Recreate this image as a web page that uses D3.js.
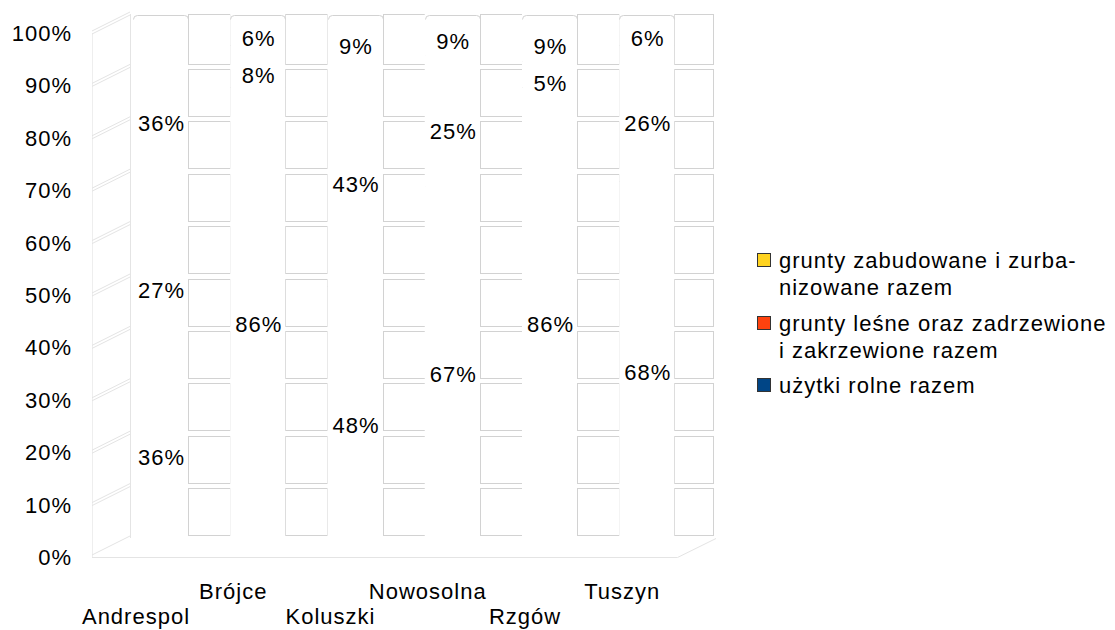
<!DOCTYPE html>
<html>
<head>
<meta charset="utf-8">
<script src="https://cdn.jsdelivr.net/npm/d3@7"></script>
<style>
  body { margin: 0; background: #fff; }
  text { font-family: "Liberation Sans", Arial, sans-serif; font-size: 22px; letter-spacing: 1px; fill: #000; }
</style>
</head>
<body>
<script>
// stacked 100% columns, 3D look, bars are left white like in the source
var categories = ["Andrespol", "Brójce", "Koluszki", "Nowosolna", "Rzgów", "Tuszyn"];
var uzytkiRolne = [36, 86, 48, 67, 86, 68];
var gruntyLesne = [27, 8, 43, 25, 5, 26];
var gruntyZabudowane = [36, 6, 9, 9, 9, 6];
var seriesKeys = ["uzytkiRolne", "gruntyLesne", "gruntyZabudowane"];
var legendNames = [
    ["grunty zabudowane i zurba-", "nizowane razem"],
    ["grunty leśne oraz zadrzewione", "i zakrzewione razem"],
    ["użytki rolne razem"]
];
var legendColors = ["#ffd320", "#ff420e", "#004586"];
var ticks = [0, 10, 20, 30, 40, 50, 60, 70, 80, 90, 100];

var rows = categories.map(function(c, i) {
    return {cat: c, uzytkiRolne: uzytkiRolne[i], gruntyLesne: gruntyLesne[i], gruntyZabudowane: gruntyZabudowane[i]};
});
var stacked = d3.stack().keys(seriesKeys)(rows);

var W = 1115, H = 630;
var svg = d3.select("body").append("svg").attr("width", W).attr("height", H);

var x = d3.scaleBand().domain(categories).range([130, 713.5]);
var yBack = d3.scaleLinear().domain([0, 100]).range([538, 14]);
var yFront = d3.scaleLinear().domain([0, 100]).range([557, 33]);
var yLabel = d3.scaleLinear().domain([0, 100]).range([552, 22]);
var depthX = 38;
var barOff = 3, barW = 55;
var wallCol = "#e4e4e4", cellCol = "#d2d2d2";

// left side wall
var wall = svg.append("g").attr("fill", "none").attr("stroke", wallCol).attr("stroke-width", 1);
wall.append("line").attr("x1", 130 - depthX + 0.5).attr("x2", 130 - depthX + 0.5)
    .attr("y1", yFront(100)).attr("y2", yFront(0)).attr("stroke", "#eeeeee");
wall.append("line").attr("x1", 130.5).attr("x2", 130.5).attr("y1", yBack(100)).attr("y2", yBack(0));
ticks.forEach(function(t) {
    [-2, 1].forEach(function(o) {
        if (t === 0 && o > 0) return;
        wall.append("line")
            .attr("x1", 130 - depthX).attr("y1", yFront(t) + o)
            .attr("x2", 130).attr("y2", yBack(t) + o);
    });
});
// floor
wall.append("line").attr("x1", 130 - depthX).attr("x2", 713.5 - depthX + 2)
    .attr("y1", yFront(0) + 0.5).attr("y2", yFront(0) + 0.5);
wall.append("line").attr("x1", 713.5 - depthX + 2).attr("y1", yFront(0) + 0.5)
    .attr("x2", 716).attr("y2", yBack(0) + 0.5);

// back wall cells visible between the columns
var cells = svg.append("g").attr("fill", "none").attr("stroke", cellCol).attr("stroke-width", 1);
categories.forEach(function(c, i) {
    var gx0 = x(c) + barOff + barW;
    var gx1 = i < categories.length - 1 ? x(categories[i + 1]) + barOff : x.range()[1];
    for (var k = 0; k < 10; k++) {
        var top = yBack(k * 10 + 10) + (k === 9 ? 0 : 2.5);
        var bot = yBack(k * 10) - 2.5;
        cells.append("rect")
            .attr("x", Math.round(gx0) + 0.5).attr("y", Math.round(top) + 0.5)
            .attr("width", Math.round(gx1 - gx0)).attr("height", Math.round(bot - top));
    }
});

// columns (white, as in the source)
svg.append("g").selectAll("g").data(stacked).enter().append("g")
    .selectAll("rect").data(function(d) { return d; }).enter().append("rect")
    .attr("x", function(d) { return x(d.data.cat) + barOff; })
    .attr("width", barW)
    .attr("y", function(d) { return yBack(d[1]); })
    .attr("height", function(d) { return yBack(d[0]) - yBack(d[1]); })
    .attr("fill", "#fff");

// column tops
svg.append("g").selectAll("path").data(categories).enter().append("path")
    .attr("fill", "none").attr("stroke", cellCol)
    .attr("d", function(c) {
        var x0 = Math.round(x(c) + barOff) + 0.5, x1 = x0 + barW, y = 15.5;
        return "M" + x0 + "," + (y + 4) + "Q" + x0 + "," + y + " " + (x0 + 4) + "," + y +
            "H" + (x1 - 4) + "Q" + x1 + "," + y + " " + x1 + "," + (y + 4);
    });

// value labels
svg.append("g").selectAll("g").data(stacked).enter().append("g")
    .selectAll("text").data(function(d) { return d.map(function(p) { return {p: p, key: d.key}; }); })
    .enter().append("text")
    .attr("text-anchor", "middle")
    .attr("x", function(d) { return x(d.p.data.cat) + barOff + barW / 2 + 1; })
    .attr("y", function(d) { return yLabel((d.p[0] + d.p[1]) / 2) + 8; })
    .text(function(d) { return d.p.data[d.key] + "%"; });

// y axis labels
svg.append("g").selectAll("text").data(ticks).enter().append("text")
    .attr("text-anchor", "end")
    .attr("x", 72)
    .attr("y", function(t) { return yFront(t) + 8; })
    .text(function(t) { return t + "%"; });

// category labels, staggered
svg.append("g").selectAll("text").data(categories).enter().append("text")
    .attr("text-anchor", "middle")
    .attr("x", function(c) { return x(c) + 6; })
    .attr("y", function(c, i) { return i % 2 === 0 ? 624 : 599; })
    .text(function(c) { return c; });

// legend
var legendY = [268, 331, 393];
var legend = svg.append("g");
legendNames.forEach(function(lines, i) {
    legend.append("rect")
        .attr("x", 757.5).attr("y", legendY[i] - 14.5)
        .attr("width", 13).attr("height", 13)
        .attr("fill", legendColors[i]).attr("stroke", "#333");
    lines.forEach(function(l, j) {
        legend.append("text").attr("x", 779).attr("y", legendY[i] + j * 27).text(l);
    });
});
</script>
</body>
</html>
